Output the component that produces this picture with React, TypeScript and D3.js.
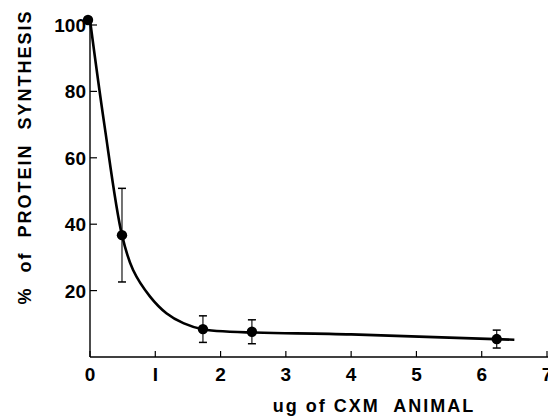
import { useMemo } from "react";
import * as d3 from "d3";

const width = 548;
const height = 418;

// measured points with error bars
const doses = [0, 0.49, 1.73, 2.48, 6.23];
const synthesis = [101.5, 36.7, 8.4, 7.6, 5.4];
const errors = [0, 14.1, 4.0, 3.6, 2.7];

// hand-drawn fitted curve
const curveX = [0, 0.22, 0.49, 0.66, 0.92, 1.17, 1.43, 1.74, 4.0, 6.5];
const curveY = [101.5, 70, 36.7, 26.2, 18.2, 13.2, 10.2, 8.3, 6.8, 5.2];

const xTicks = [0, 1, 2, 3, 4, 5, 6, 7];
const xTickLabels = ["0", "I", "2", "3", "4", "5", "6", "7"];
const yTicks = [20, 40, 60, 80, 100];

const FONT = "'Liberation Sans', Arial, sans-serif";

export default function App() {
  const x = useMemo(() => d3.scaleLinear().domain([0, 7]).range([90, 547]), []);
  const y = useMemo(() => d3.scaleLinear().domain([0, 100]).range([357, 25]), []);

  const line = d3
    .line<number>()
    .x((_, i) => x(curveX[i]))
    .y((d) => y(d))
    .curve(d3.curveCatmullRom.alpha(0.5));

  return (
    <svg
      width={width}
      height={height}
      style={{ position: "absolute", left: 0, top: 0, background: "#fff" }}
    >
      {/* axes */}
      <line x1={x(0)} x2={x(7) + 2} y1={y(0)} y2={y(0)} stroke="#000" strokeWidth={1.6} />
      <line x1={x(0)} x2={x(0)} y1={y(0)} y2={y(100)} stroke="#000" strokeWidth={1.4} />

      {xTicks.map((t, i) => (
        <g key={t}>
          <line x1={x(t)} x2={x(t)} y1={y(0)} y2={y(0) - 6} stroke="#000" strokeWidth={1.2} />
          <text
            x={x(t)}
            y={381}
            textAnchor="middle"
            fontFamily={FONT}
            fontWeight={700}
            fontSize={19}
          >
            {xTickLabels[i]}
          </text>
        </g>
      ))}

      {yTicks.map((t) => (
        <g key={t}>
          <line x1={x(0)} x2={x(0) + 7} y1={y(t)} y2={y(t)} stroke="#000" strokeWidth={1.2} />
          <text
            x={86}
            y={y(t) + 7}
            textAnchor="end"
            fontFamily={FONT}
            fontWeight={700}
            fontSize={19}
          >
            {t}
          </text>
        </g>
      ))}

      {/* fitted curve */}
      <path d={line(curveY) ?? ""} fill="none" stroke="#000" strokeWidth={2.6} />

      {/* error bars and points */}
      {doses.map((d, i) => (
        <g key={i}>
          {errors[i] > 0 && (
            <g stroke="#000">
              <line x1={x(d)} x2={x(d)} y1={y(synthesis[i] + errors[i])} y2={y(synthesis[i] - errors[i])} strokeWidth={1.1} />
              <line x1={x(d) - 4} x2={x(d) + 4} y1={y(synthesis[i] + errors[i])} y2={y(synthesis[i] + errors[i])} strokeWidth={1.5} />
              <line x1={x(d) - 4} x2={x(d) + 4} y1={y(synthesis[i] - errors[i])} y2={y(synthesis[i] - errors[i])} strokeWidth={1.5} />
            </g>
          )}
          <circle cx={x(d) - (i === 0 ? 2 : 0)} cy={y(synthesis[i])} r={5.2} fill="#000" />
        </g>
      ))}

      {/* axis titles */}
      <text
        x={374}
        y={412}
        textAnchor="middle"
        fontFamily={FONT}
        fontWeight={700}
        fontSize={18}
        letterSpacing={2}
        style={{ whiteSpace: "pre" }}
      >
        {"ug of CXM  ANIMAL"}
      </text>
      <text
        transform="translate(31,157) rotate(-90)"
        textAnchor="middle"
        fontFamily={FONT}
        fontWeight={700}
        fontSize={18}
        letterSpacing={2}
        style={{ whiteSpace: "pre" }}
      >
        {"%  of  PROTEIN  SYNTHESIS"}
      </text>
    </svg>
  );
}
